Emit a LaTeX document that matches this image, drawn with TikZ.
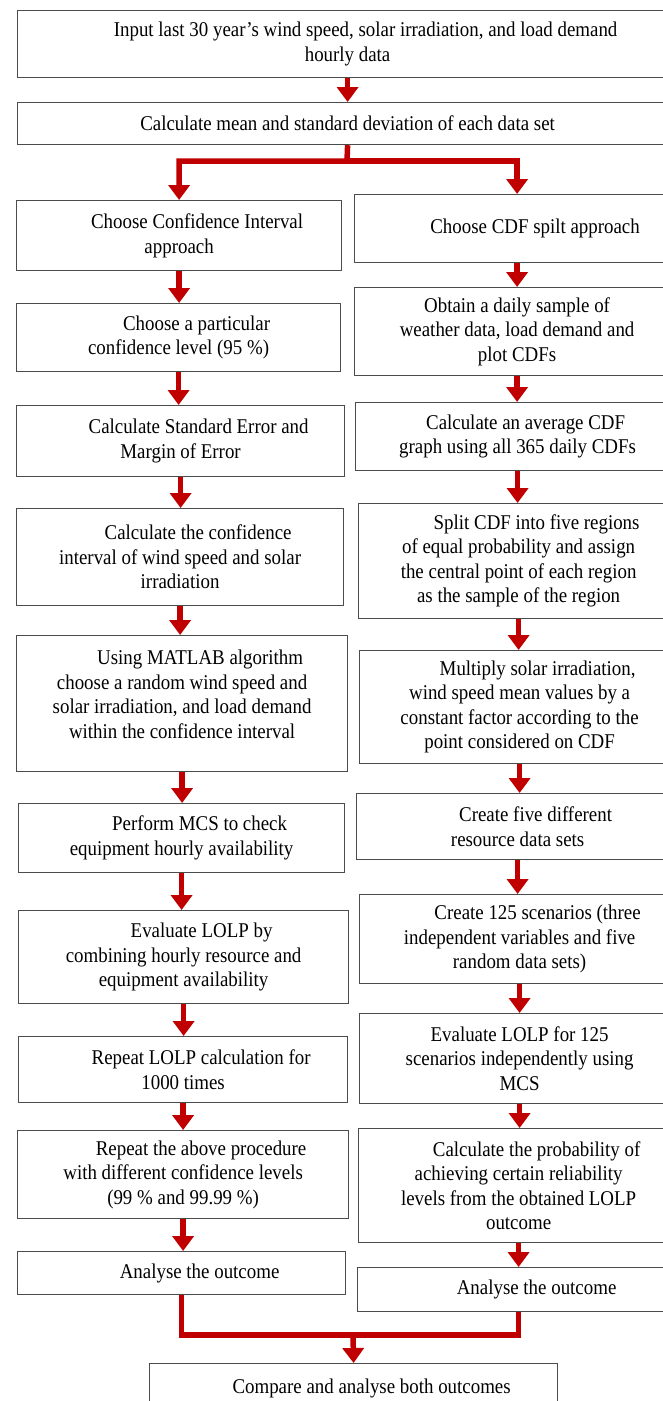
\documentclass[tikz,border=0pt]{standalone}
\usepackage{fontspec}
\setmainfont{Liberation Serif}[FakeStretch=0.9]
\usetikzlibrary{arrows.meta}
\definecolor{flowred}{RGB}{192,0,0}
\newcommand{\indt}{\hspace*{36pt}}

\begin{document}
\begin{tikzpicture}[x=1pt, y=-1pt,
        main/.style = {draw=black!70, line width=1.2pt, anchor=north west, align=center, inner sep=0pt, font=\fontsize{21}{24.5}\selectfont},
        flow/.style = {draw=flowred, line width=5.5pt, -{Triangle[width=21pt,length=15pt]}},
        flowline/.style = {draw=flowred, line width=5.5pt}]
        \useasboundingbox (0,0) rectangle (662,1401);
        % common part
        \node[main, minimum width=660pt, minimum height=67pt] at (17,10) (input) {\indt Input last 30 year’s wind speed, solar irradiation, and load demand\\ hourly data};
        \node[main, minimum width=660pt, minimum height=42pt] at (17,102) (mean) {Calculate mean and standard deviation of each data set};
        % confidence interval column
        \node[main, minimum width=325pt, minimum height=70pt] at (16,200) (ci1) {\indt Choose Confidence Interval\\ approach};
        \node[main, minimum width=324pt, minimum height=68pt] at (16,303) (ci2) {\indt Choose a particular\\ confidence level (95 \%)};
        \node[main, minimum width=328pt, minimum height=71pt] at (16,405) (ci3) {\indt Calculate Standard Error and\\ Margin of Error};
        \node[main, minimum width=327pt, minimum height=97pt] at (16,508) (ci4) {\indt Calculate the confidence\\ interval of wind speed and solar\\ irradiation};
        \node[main, minimum width=331pt, minimum height=136pt] at (16,635) (ci5) {\indt Using MATLAB algorithm\\ choose a random wind speed and\\ solar irradiation, and load demand\\ within the confidence interval\\[-6pt]};
        \node[main, minimum width=326pt, minimum height=69pt] at (18,803) (ci6) {\indt Perform MCS to check\\ equipment hourly availability};
        \node[main, minimum width=330pt, minimum height=93pt] at (18,910) (ci7) {\indt Evaluate LOLP by\\ combining hourly resource and\\ equipment availability};
        \node[main, minimum width=329pt, minimum height=66pt] at (18,1036) (ci8) {\indt Repeat LOLP calculation for\\ 1000 times};
        \node[main, minimum width=331pt, minimum height=88pt] at (17,1130) (ci9) {\indt Repeat the above procedure\\ with different confidence levels\\ (99 \% and 99.99 \%)};
        \node[main, minimum width=328pt, minimum height=43pt] at (17,1251) (ci10) {\indt Analyse the outcome};
        % CDF split column
        \node[main, minimum width=325pt, minimum height=68pt] at (354,194) (cdf1) {\indt Choose CDF spilt approach};
        \node[main, minimum width=325pt, minimum height=88pt] at (354,287) (cdf2) {Obtain a daily sample of\\ weather data, load demand and\\ plot CDFs};
        \node[main, minimum width=324pt, minimum height=68pt] at (355,402) (cdf3) {\hspace*{16pt}Calculate an average CDF\\ graph using all 365 daily CDFs};
        \node[main, minimum width=320pt, minimum height=115pt] at (358,503) (cdf4) {\indt Split CDF into five regions\\ of equal probability and assign\\ the central point of each region\\ as the sample of the region};
        \node[main, minimum width=320pt, minimum height=113pt] at (359,650) (cdf5) {\indt Multiply solar irradiation,\\ wind speed mean values by a\\ constant factor according to the\\ point considered on CDF};
        \node[main, minimum width=322pt, minimum height=66pt] at (356,793) (cdf6) {\indt Create five different\\ resource data sets};
        \node[main, minimum width=320pt, minimum height=89pt] at (359,894) (cdf7) {\indt Create 125 scenarios (three\\ independent variables and five\\ random data sets)};
        \node[main, minimum width=320pt, minimum height=90pt] at (359,1013) (cdf8) {Evaluate LOLP for 125\\ scenarios independently using\\ MCS};
        \node[main, minimum width=320pt, minimum height=114pt] at (358,1128) (cdf9) {\indt Calculate the probability of\\ achieving certain reliability\\ levels from the obtained LOLP\\ outcome};
        \node[main, minimum width=322pt, minimum height=44pt] at (357,1267) (cdf10) {\indt Analyse the outcome};
        % final
        \node[main, minimum width=408pt, minimum height=50pt] at (149,1363) (compare) {\indt Compare and analyse both outcomes};
        \coordinate (split) at (347,161);
        \coordinate (merge) at (353,1335);
        \draw[flow] (input.south) -- (input.south |- mean.north);
        \draw[flow] (mean.south) -- (split) -| (ci1.north);
        \draw[flow] (split) -| (cdf1.north);
        \draw[flow] (ci1.south) -- (ci1.south |- ci2.north);
        \draw[flow] (ci2.south) -- (ci2.south |- ci3.north);
        \draw[flow] (ci3.south) -- (ci3.south |- ci4.north);
        \draw[flow] (ci4.south) -- (ci4.south |- ci5.north);
        \draw[flow] (ci5.south) -- (ci5.south |- ci6.north);
        \draw[flow] (ci6.south) -- (ci6.south |- ci7.north);
        \draw[flow] (ci7.south) -- (ci7.south |- ci8.north);
        \draw[flow] (ci8.south) -- (ci8.south |- ci9.north);
        \draw[flow] (ci9.south) -- (ci9.south |- ci10.north);
        \draw[flow] (cdf1.south) -- (cdf1.south |- cdf2.north);
        \draw[flow] (cdf2.south) -- (cdf2.south |- cdf3.north);
        \draw[flow] (cdf3.south) -- (cdf3.south |- cdf4.north);
        \draw[flow] (cdf4.south) -- (cdf4.south |- cdf5.north);
        \draw[flow] (cdf5.south) -- (cdf5.south |- cdf6.north);
        \draw[flow] (cdf6.south) -- (cdf6.south |- cdf7.north);
        \draw[flow] (cdf7.south) -- (cdf7.south |- cdf8.north);
        \draw[flow] (cdf8.south) -- (cdf8.south |- cdf9.north);
        \draw[flow] (cdf9.south) -- (cdf9.south |- cdf10.north);
        \draw[flowline] (ci10.south) |- (merge);
        \draw[flowline] (cdf10.south) |- (merge);
        \draw[flow] (merge) -- (compare.north);
\end{tikzpicture}
\end{document}
